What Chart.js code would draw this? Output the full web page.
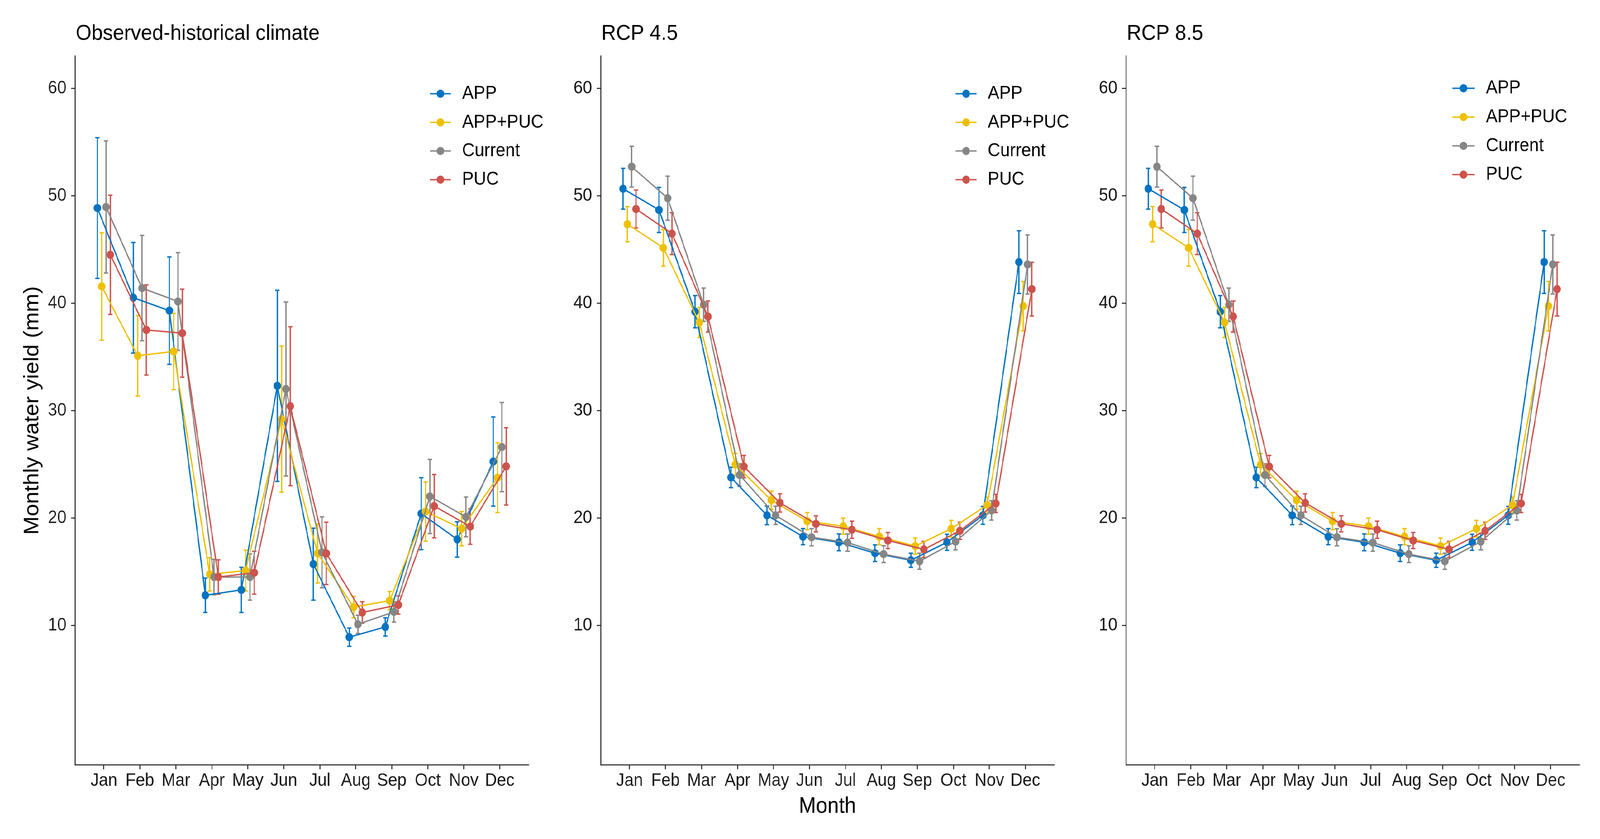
<!DOCTYPE html>
<html>
<head>
<meta charset="utf-8">
<script src="https://cdn.jsdelivr.net/npm/chart.js@4.4.1/dist/chart.umd.min.js"></script>
<style>
  html, body { margin: 0; padding: 0; background: #fff; overflow: hidden; }
  #page { width: 4432px; height: 2148px; position: relative; transform-origin: 0 0; background: #fff; }
  .panel { position: absolute; top: 0; width: 1544px; height: 2148px; }
</style>
</head>
<body>
<div id="page">
  <div class="panel" style="left:0px"><canvas id="c1"></canvas></div>
  <div class="panel" style="left:1456px"><canvas id="c2"></canvas></div>
  <div class="panel" style="left:2911px"><canvas id="c3"></canvas></div>
</div>
<script>
// categories and tick labels
const months = ['Jan', 'Feb', 'Mar', 'Apr', 'May', 'Jun', 'Jul', 'Aug', 'Sep', 'Oct', 'Nov', 'Dec'];
const yTicks = [10, 20, 30, 40, 50, 60];
const seriesNames = ['APP', 'APP+PUC', 'Current', 'PUC'];
const seriesColors = ['#0073C2', '#EFC000', '#868686', '#CD534C'];
const dodge = [-0.18, -0.06, 0.06, 0.18];

// Observed-historical climate: means and error (half range)
const histAPP = [48.85, 40.5, 39.3, 12.8, 13.3, 32.3, 15.7, 8.9, 9.85, 20.4, 18.0, 25.25];
const histAPPErr = [6.55, 5.15, 5.0, 1.6, 2.1, 8.9, 3.35, 0.85, 0.85, 3.35, 1.65, 4.15];
const histAPPPUC = [41.55, 35.1, 35.5, 14.75, 15.1, 29.2, 16.7, 11.7, 12.3, 20.6, 19.0, 23.75];
const histAPPPUCErr = [5.0, 3.75, 3.55, 1.55, 1.9, 6.8, 2.75, 1.0, 0.85, 2.75, 1.6, 3.25];
const histCurrent = [48.95, 41.4, 40.15, 14.5, 14.5, 32.0, 16.8, 10.1, 11.25, 22.0, 20.1, 26.6];
const histCurrentErr = [6.15, 4.9, 4.55, 1.65, 2.15, 8.1, 3.3, 0.85, 0.95, 3.45, 1.85, 4.15];
const histPUC = [44.5, 37.5, 37.2, 14.5, 14.9, 30.4, 16.7, 11.2, 11.9, 21.1, 19.2, 24.8];
const histPUCErr = [5.55, 4.2, 4.1, 1.6, 2.0, 7.4, 2.9, 1.0, 0.85, 2.95, 1.65, 3.6];

// RCP 4.5
const rcp45APP = [50.65, 48.67, 39.2, 23.77, 20.24, 18.26, 17.73, 16.72, 16.06, 17.73, 20.24, 43.82];
const rcp45APPErr = [1.9, 2.1, 1.5, 0.95, 0.87, 0.75, 0.78, 0.77, 0.66, 0.75, 0.83, 2.92];
const rcp45APPPUC = [47.35, 45.15, 38.2, 24.96, 21.65, 19.7, 19.23, 18.26, 17.38, 19.0, 21.2, 39.72];
const rcp45APPPUCErr = [1.64, 1.7, 1.4, 1.03, 0.85, 0.8, 0.75, 0.75, 0.75, 0.77, 0.75, 2.3];
const rcp45Current = [52.7, 49.77, 39.85, 24.0, 20.24, 18.2, 17.7, 16.63, 15.97, 17.8, 20.7, 43.6];
const rcp45CurrentErr = [1.9, 2.05, 1.55, 1.05, 0.85, 0.8, 0.8, 0.78, 0.75, 0.77, 0.9, 2.75];
const rcp45PUC = [48.76, 46.47, 38.75, 24.78, 21.4, 19.45, 18.9, 17.9, 17.07, 18.8, 21.35, 41.3];
const rcp45PUCErr = [1.77, 1.95, 1.45, 1.04, 0.85, 0.75, 0.8, 0.75, 0.75, 0.8, 0.85, 2.5];

// RCP 8.5
const rcp85APP = [50.65, 48.67, 39.2, 23.77, 20.24, 18.26, 17.73, 16.72, 16.06, 17.73, 20.24, 43.82];
const rcp85APPErr = [1.9, 2.1, 1.5, 0.95, 0.87, 0.75, 0.78, 0.77, 0.66, 0.75, 0.83, 2.92];
const rcp85APPPUC = [47.35, 45.15, 38.2, 24.96, 21.65, 19.7, 19.23, 18.26, 17.38, 19.0, 21.2, 39.72];
const rcp85APPPUCErr = [1.64, 1.7, 1.4, 1.03, 0.85, 0.8, 0.75, 0.75, 0.75, 0.77, 0.75, 2.3];
const rcp85Current = [52.7, 49.77, 39.85, 24.0, 20.24, 18.2, 17.7, 16.63, 15.97, 17.8, 20.7, 43.6];
const rcp85CurrentErr = [1.9, 2.05, 1.55, 1.05, 0.85, 0.8, 0.8, 0.78, 0.75, 0.77, 0.9, 2.75];
const rcp85PUC = [48.76, 46.47, 38.75, 24.78, 21.4, 19.45, 18.9, 17.9, 17.07, 18.8, 21.35, 41.3];
const rcp85PUCErr = [1.77, 1.95, 1.45, 1.04, 0.85, 0.75, 0.8, 0.75, 0.75, 0.8, 0.85, 2.5];

const FONT = "'Liberation Sans', Arial, Helvetica, sans-serif";
const AXIS_COLOR = '#1a1a1a';

// stretch the 4432x2148 page over the whole viewport
const sx = window.innerWidth / 4432, sy = window.innerHeight / 2148;
document.getElementById('page').style.transform = 'scale(' + sx + ',' + sy + ')';
const renderRatio = (window.devicePixelRatio || 1) * Math.max(sx, sy);

// draws the error bars through the chart's own scales
const errorBars = {
    id: 'errorBars',
    beforeDatasetsDraw(chart) {
        const ctx = chart.ctx;
        const x = chart.scales.x, y = chart.scales.y;
        chart.data.datasets.forEach(ds => {
            ctx.save();
            ctx.strokeStyle = ds.borderColor;
            ctx.lineWidth = 3.5;
            ds.data.forEach((pt, i) => {
                const px = x.getPixelForValue(pt.x);
                const top = y.getPixelForValue(pt.y + ds.errors[i]);
                const bot = y.getPixelForValue(pt.y - ds.errors[i]);
                ctx.beginPath();
                ctx.moveTo(px, top); ctx.lineTo(px, bot);
                ctx.moveTo(px - 6, top); ctx.lineTo(px + 6, top);
                ctx.moveTo(px - 6, bot); ctx.lineTo(px + 6, bot);
                ctx.stroke();
            });
            ctx.restore();
        });
    }
};

// panel title and ggplot-style legend
const decor = {
    id: 'decor',
    afterDraw(chart, args, opts) {
        const ctx = chart.ctx;
        const left = chart.chartArea.left;
        ctx.save();
        ctx.fillStyle = '#000';
        ctx.textBaseline = 'middle';
        ctx.textAlign = 'left';
        ctx.font = '56px ' + FONT;
        ctx.fillText(opts.title, left + 2, 87);

        ctx.font = '48px ' + FONT;
        seriesNames.forEach((name, i) => {
            const yy = opts.legendTop + i * opts.legendGap;
            const x0 = left + opts.keyX0, x1 = left + opts.keyX1;
            ctx.strokeStyle = seriesColors[i];
            ctx.lineWidth = 3.5;
            ctx.beginPath();
            ctx.moveTo(x0, yy); ctx.lineTo(x1, yy);
            ctx.stroke();
            ctx.fillStyle = seriesColors[i];
            ctx.beginPath();
            ctx.arc((x0 + x1) / 2, yy, 10.5, 0, Math.PI * 2);
            ctx.fill();
            ctx.fillStyle = '#000';
            ctx.fillText(name, left + opts.textX, yy);
        });
        ctx.restore();
    }
};

function buildDatasets(means, errs) {
    return means.map((vals, s) => ({
        label: seriesNames[s],
        data: vals.map((v, i) => ({ x: i + 1 + dodge[s], y: v })),
        errors: errs[s],
        borderColor: seriesColors[s],
        backgroundColor: seriesColors[s],
        pointBackgroundColor: seriesColors[s],
        pointBorderWidth: 0,
        pointRadius: 10.5,
        borderWidth: 3.5,
        tension: 0,
        order: 4 - s
    }));
}

function makeChart(id, means, errs, decorOpts, showYTitle, showXTitle) {
    const ctx = document.getElementById(id).getContext('2d');
    return new Chart(ctx, {
        type: 'line',
        data: { datasets: buildDatasets(means, errs) },
        plugins: [errorBars, decor],
        options: {
            responsive: true,
            maintainAspectRatio: false,
            animation: false,
            devicePixelRatio: renderRatio,
            layout: { padding: { top: 143.5, right: 80, bottom: 0, left: 0 } },
            plugins: {
                legend: { display: false },
                tooltip: { enabled: false },
                decor: decorOpts
            },
            scales: {
                x: {
                    type: 'linear',
                    min: 0.2,
                    max: 12.8,
                    afterBuildTicks: scale => { scale.ticks = months.map((m, i) => ({ value: i + 1 })); },
                    afterFit: scale => { scale.height = 2148 - 1958.5; },
                    grid: { display: true, drawOnChartArea: false, drawTicks: true, tickLength: 11, color: AXIS_COLOR, lineWidth: 2.5 },
                    border: { display: true, color: AXIS_COLOR, width: 2.5 },
                    ticks: {
                        autoSkip: false, maxRotation: 0, padding: 2,
                        color: AXIS_COLOR,
                        font: { family: FONT, size: 46 },
                        callback: v => months[Math.round(v) - 1]
                    },
                    title: {
                        display: showXTitle, text: 'Month', color: '#000',
                        font: { family: FONT, size: 57 },
                        padding: { top: 0, bottom: 49 }
                    }
                },
                y: {
                    type: 'linear',
                    min: -3,
                    max: 63,
                    afterBuildTicks: scale => { scale.ticks = yTicks.map(v => ({ value: v })); },
                    afterFit: scale => { scale.width = 208; },
                    grid: { display: true, drawOnChartArea: false, drawTicks: true, tickLength: 11, color: AXIS_COLOR, lineWidth: 2.5 },
                    border: { display: true, color: AXIS_COLOR, width: 2.5 },
                    ticks: {
                        padding: 13,
                        color: AXIS_COLOR,
                        font: { family: FONT, size: 46 }
                    },
                    title: {
                        display: showYTitle, text: 'Monthly water yield (mm)', color: '#000',
                        font: { family: FONT, size: 57 },
                        padding: { top: 56, bottom: 0 }
                    }
                }
            }
        }
    });
}

makeChart('c1',
    [histAPP, histAPPPUC, histCurrent, histPUC],
    [histAPPErr, histAPPPUCErr, histCurrentErr, histPUCErr],
    { title: 'Observed-historical climate', keyX0: 983, keyX1: 1041, textX: 1072, legendTop: 240, legendGap: 73.3 },
    true, false);

makeChart('c2',
    [rcp45APP, rcp45APPPUC, rcp45Current, rcp45PUC],
    [rcp45APPErr, rcp45APPPUCErr, rcp45CurrentErr, rcp45PUCErr],
    { title: 'RCP 4.5', keyX0: 983, keyX1: 1041, textX: 1072, legendTop: 240, legendGap: 73.3 },
    false, true);

makeChart('c3',
    [rcp85APP, rcp85APPPUC, rcp85Current, rcp85PUC],
    [rcp85APPErr, rcp85APPPUCErr, rcp85CurrentErr, rcp85PUCErr],
    { title: 'RCP 8.5', keyX0: 904, keyX1: 966, textX: 997, legendTop: 226, legendGap: 73.7 },
    false, false);
</script>
</body>
</html>
